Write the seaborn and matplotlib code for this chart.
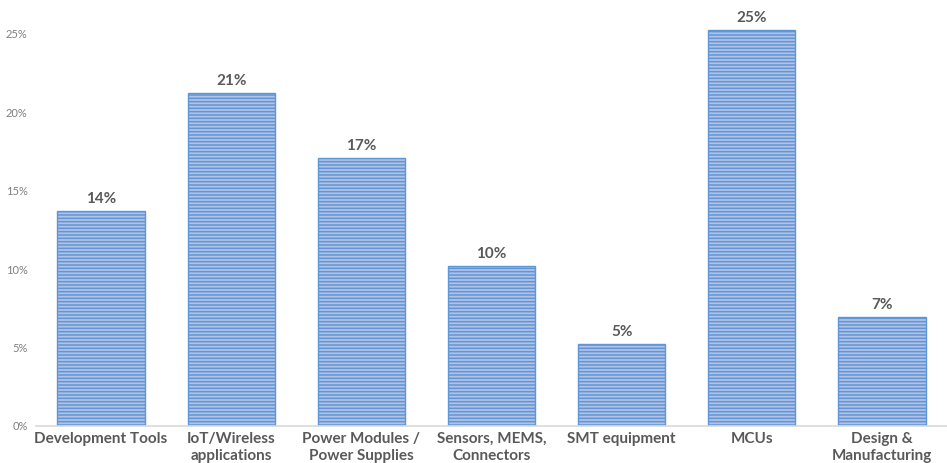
import matplotlib
matplotlib.use("Agg")
import matplotlib.pyplot as plt
import seaborn as sns
import pandas as pd
from matplotlib.ticker import FuncFormatter

categories = ["Development Tools", "IoT/Wireless\napplications", "Power Modules /\nPower Supplies",
              "Sensors, MEMS,\nConnectors", "SMT equipment", "MCUs", "Design &\nManufacturing"]
shares = [13.7, 21.25, 17.1, 10.2, 5.25, 25.25, 6.95]
labels = ["14%", "21%", "17%", "10%", "5%", "25%", "7%"]

df = pd.DataFrame({"category": categories, "share": shares})

sns.set_style("white")
plt.rcParams['font.family'] = ['Lato', 'DejaVu Sans']
plt.rcParams['hatch.linewidth'] = 1.1

fig = plt.figure(figsize=(9.47, 4.63), dpi=100)
ax = fig.add_axes([0.038, 0.08, 0.962, 0.92])

# striped blue bars, like the original fill
sns.barplot(data=df, x="category", y="share", ax=ax, width=0.67,
            color="#B3C1E2", edgecolor="#5F96DA", linewidth=1.0, saturation=1)
for bar in ax.patches:
    bar.set_hatch("-----")

for i, (v, lab) in enumerate(zip(shares, labels)):
    ax.text(i, v + 0.3, lab, ha="center", va="bottom", fontsize=11,
            fontweight="bold", color="#595959")

ax.set_ylim(0, 27.15)
ax.set_xlim(-0.5, 6.5)
ax.set_yticks([0, 5, 10, 15, 20, 25])
ax.yaxis.set_major_formatter(FuncFormatter(lambda y, _: f"{int(y)}%"))
ax.tick_params(axis="y", labelsize=8, labelcolor="#7F7F7F", length=0, pad=6)
ax.tick_params(axis="x", labelsize=11, labelcolor="#595959", length=0, pad=4)
for t in ax.get_xticklabels():
    t.set_fontweight("bold")
    t.set_linespacing(1.3)
ax.set_xlabel("")
ax.set_ylabel("")

for s in ["top", "right", "left"]:
    ax.spines[s].set_visible(False)
ax.spines["bottom"].set_color("#D9D9D9")
ax.spines["bottom"].set_linewidth(1.2)

fig.savefig("out.png", dpi=100)
